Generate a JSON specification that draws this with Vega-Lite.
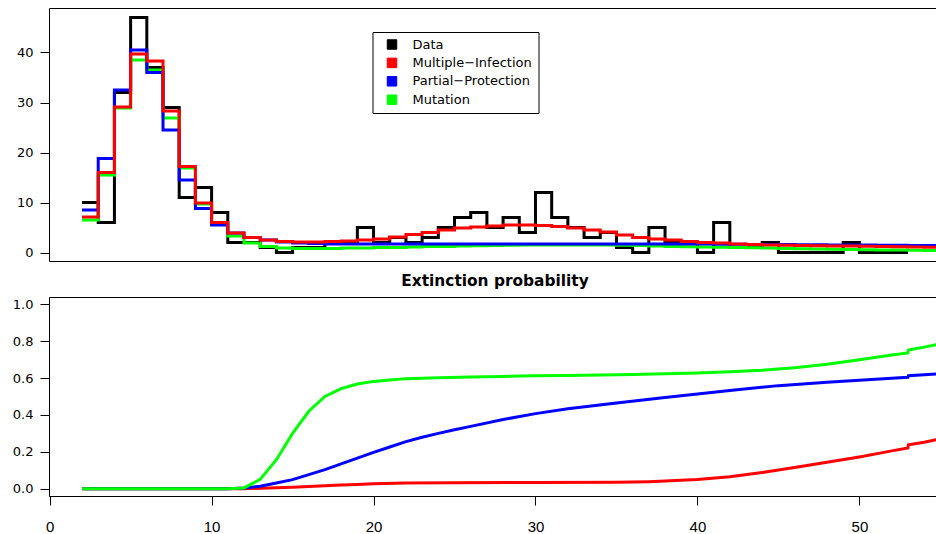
{
  "$schema": "https://vega.github.io/schema/vega-lite/v6.json",
  "padding": {"left": 8, "top": 7, "right": -4, "bottom": 0},
  "background": "white",
  "spacing": 11,
  "config": {
    "font": "DejaVu Sans",
    "view": {"stroke": "black", "strokeWidth": 1},
    "axis": {"grid": false, "domain": false, "tickColor": "black", "tickSize": 9, "tickWidth": 1, "labelColor": "black", "title": null, "labelFlush": false},
    "axisY": {"labelPadding": 7, "minExtent": 40, "maxExtent": 40, "labelFont": "DejaVu Sans", "labelFontSize": 13},
    "axisX": {"labelPadding": 14, "labelFont": "Liberation Sans", "labelFontSize": 15}
  },
  "datasets": {
    "counts": [
      {"x":2,"y":10,"s":"Data"},{"x":3,"y":6,"s":"Data"},{"x":4,"y":32,"s":"Data"},{"x":5,"y":47,"s":"Data"},{"x":6,"y":37,"s":"Data"},{"x":7,"y":29,"s":"Data"},{"x":8,"y":11,"s":"Data"},{"x":9,"y":13,"s":"Data"},{"x":10,"y":8,"s":"Data"},{"x":11,"y":2,"s":"Data"},{"x":12,"y":2,"s":"Data"},{"x":13,"y":1,"s":"Data"},{"x":14,"y":0,"s":"Data"},{"x":15,"y":1,"s":"Data"},{"x":16,"y":1,"s":"Data"},{"x":17,"y":2,"s":"Data"},{"x":18,"y":2,"s":"Data"},{"x":19,"y":5,"s":"Data"},{"x":20,"y":2,"s":"Data"},{"x":21,"y":3,"s":"Data"},{"x":22,"y":2,"s":"Data"},{"x":23,"y":3,"s":"Data"},{"x":24,"y":5,"s":"Data"},{"x":25,"y":7,"s":"Data"},{"x":26,"y":8,"s":"Data"},{"x":27,"y":5,"s":"Data"},{"x":28,"y":7,"s":"Data"},{"x":29,"y":4,"s":"Data"},{"x":30,"y":12,"s":"Data"},{"x":31,"y":7,"s":"Data"},{"x":32,"y":5,"s":"Data"},{"x":33,"y":3,"s":"Data"},{"x":34,"y":4,"s":"Data"},{"x":35,"y":1,"s":"Data"},{"x":36,"y":0,"s":"Data"},{"x":37,"y":5,"s":"Data"},{"x":38,"y":2,"s":"Data"},{"x":39,"y":2,"s":"Data"},{"x":40,"y":0,"s":"Data"},{"x":41,"y":6,"s":"Data"},{"x":42,"y":1,"s":"Data"},{"x":43,"y":1,"s":"Data"},{"x":44,"y":2,"s":"Data"},{"x":45,"y":0,"s":"Data"},{"x":46,"y":0,"s":"Data"},{"x":47,"y":0,"s":"Data"},{"x":48,"y":0,"s":"Data"},{"x":49,"y":2,"s":"Data"},{"x":50,"y":0,"s":"Data"},{"x":51,"y":0,"s":"Data"},{"x":52,"y":0,"s":"Data"},{"x":53,"y":0,"s":"Data"},

      {"x":2,"y":6.5,"s":"Mutation"},{"x":3,"y":15.5,"s":"Mutation"},{"x":4,"y":28.9,"s":"Mutation"},{"x":5,"y":38.5,"s":"Mutation"},{"x":6,"y":36.5,"s":"Mutation"},{"x":7,"y":26.9,"s":"Mutation"},{"x":8,"y":16.9,"s":"Mutation"},{"x":9,"y":9.7,"s":"Mutation"},{"x":10,"y":5.8,"s":"Mutation"},{"x":11,"y":3.3,"s":"Mutation"},{"x":12,"y":1.9,"s":"Mutation"},{"x":13,"y":1.2,"s":"Mutation"},{"x":14,"y":0.9,"s":"Mutation"},{"x":15,"y":0.8,"s":"Mutation"},{"x":16,"y":0.8,"s":"Mutation"},{"x":17,"y":0.8,"s":"Mutation"},{"x":18,"y":0.9,"s":"Mutation"},{"x":19,"y":0.9,"s":"Mutation"},{"x":20,"y":1.0,"s":"Mutation"},{"x":21,"y":1.0,"s":"Mutation"},{"x":22,"y":1.1,"s":"Mutation"},{"x":23,"y":1.2,"s":"Mutation"},{"x":24,"y":1.2,"s":"Mutation"},{"x":25,"y":1.3,"s":"Mutation"},{"x":26,"y":1.35,"s":"Mutation"},{"x":27,"y":1.4,"s":"Mutation"},{"x":28,"y":1.45,"s":"Mutation"},{"x":29,"y":1.5,"s":"Mutation"},{"x":30,"y":1.5,"s":"Mutation"},{"x":31,"y":1.5,"s":"Mutation"},{"x":32,"y":1.5,"s":"Mutation"},{"x":33,"y":1.5,"s":"Mutation"},{"x":34,"y":1.5,"s":"Mutation"},{"x":35,"y":1.45,"s":"Mutation"},{"x":36,"y":1.4,"s":"Mutation"},{"x":37,"y":1.3,"s":"Mutation"},{"x":38,"y":1.2,"s":"Mutation"},{"x":39,"y":1.15,"s":"Mutation"},{"x":40,"y":1.1,"s":"Mutation"},{"x":41,"y":1.05,"s":"Mutation"},{"x":42,"y":1.0,"s":"Mutation"},{"x":43,"y":0.95,"s":"Mutation"},{"x":44,"y":0.9,"s":"Mutation"},{"x":45,"y":0.8,"s":"Mutation"},{"x":46,"y":0.75,"s":"Mutation"},{"x":47,"y":0.7,"s":"Mutation"},{"x":48,"y":0.65,"s":"Mutation"},{"x":49,"y":0.6,"s":"Mutation"},{"x":50,"y":0.55,"s":"Mutation"},{"x":51,"y":0.5,"s":"Mutation"},{"x":52,"y":0.5,"s":"Mutation"},{"x":53,"y":0.45,"s":"Mutation"},{"x":54,"y":0.4,"s":"Mutation"},{"x":55,"y":0.4,"s":"Mutation"},

      {"x":2,"y":8.5,"s":"Partial−Protection"},{"x":3,"y":18.8,"s":"Partial−Protection"},{"x":4,"y":32.5,"s":"Partial−Protection"},{"x":5,"y":40.5,"s":"Partial−Protection"},{"x":6,"y":36,"s":"Partial−Protection"},{"x":7,"y":24.5,"s":"Partial−Protection"},{"x":8,"y":14.5,"s":"Partial−Protection"},{"x":9,"y":8.8,"s":"Partial−Protection"},{"x":10,"y":5.5,"s":"Partial−Protection"},{"x":11,"y":3.9,"s":"Partial−Protection"},{"x":12,"y":3.0,"s":"Partial−Protection"},{"x":13,"y":2.5,"s":"Partial−Protection"},{"x":14,"y":2.1,"s":"Partial−Protection"},{"x":15,"y":1.9,"s":"Partial−Protection"},{"x":16,"y":1.8,"s":"Partial−Protection"},{"x":17,"y":1.7,"s":"Partial−Protection"},{"x":18,"y":1.7,"s":"Partial−Protection"},{"x":19,"y":1.7,"s":"Partial−Protection"},{"x":20,"y":1.7,"s":"Partial−Protection"},{"x":21,"y":1.7,"s":"Partial−Protection"},{"x":22,"y":1.7,"s":"Partial−Protection"},{"x":23,"y":1.7,"s":"Partial−Protection"},{"x":24,"y":1.7,"s":"Partial−Protection"},{"x":25,"y":1.7,"s":"Partial−Protection"},{"x":26,"y":1.7,"s":"Partial−Protection"},{"x":27,"y":1.7,"s":"Partial−Protection"},{"x":28,"y":1.7,"s":"Partial−Protection"},{"x":29,"y":1.7,"s":"Partial−Protection"},{"x":30,"y":1.7,"s":"Partial−Protection"},{"x":31,"y":1.7,"s":"Partial−Protection"},{"x":32,"y":1.7,"s":"Partial−Protection"},{"x":33,"y":1.7,"s":"Partial−Protection"},{"x":34,"y":1.7,"s":"Partial−Protection"},{"x":35,"y":1.7,"s":"Partial−Protection"},{"x":36,"y":1.7,"s":"Partial−Protection"},{"x":37,"y":1.7,"s":"Partial−Protection"},{"x":38,"y":1.7,"s":"Partial−Protection"},{"x":39,"y":1.7,"s":"Partial−Protection"},{"x":40,"y":1.7,"s":"Partial−Protection"},{"x":41,"y":1.65,"s":"Partial−Protection"},{"x":42,"y":1.65,"s":"Partial−Protection"},{"x":43,"y":1.6,"s":"Partial−Protection"},{"x":44,"y":1.6,"s":"Partial−Protection"},{"x":45,"y":1.6,"s":"Partial−Protection"},{"x":46,"y":1.55,"s":"Partial−Protection"},{"x":47,"y":1.55,"s":"Partial−Protection"},{"x":48,"y":1.5,"s":"Partial−Protection"},{"x":49,"y":1.5,"s":"Partial−Protection"},{"x":50,"y":1.5,"s":"Partial−Protection"},{"x":51,"y":1.45,"s":"Partial−Protection"},{"x":52,"y":1.45,"s":"Partial−Protection"},{"x":53,"y":1.4,"s":"Partial−Protection"},{"x":54,"y":1.4,"s":"Partial−Protection"},{"x":55,"y":1.4,"s":"Partial−Protection"},

      {"x":2,"y":7.1,"s":"Multiple−Infection"},{"x":3,"y":16,"s":"Multiple−Infection"},{"x":4,"y":29.1,"s":"Multiple−Infection"},{"x":5,"y":39.7,"s":"Multiple−Infection"},{"x":6,"y":38.3,"s":"Multiple−Infection"},{"x":7,"y":28.3,"s":"Multiple−Infection"},{"x":8,"y":17.2,"s":"Multiple−Infection"},{"x":9,"y":9.9,"s":"Multiple−Infection"},{"x":10,"y":6.0,"s":"Multiple−Infection"},{"x":11,"y":3.9,"s":"Multiple−Infection"},{"x":12,"y":3.0,"s":"Multiple−Infection"},{"x":13,"y":2.5,"s":"Multiple−Infection"},{"x":14,"y":2.2,"s":"Multiple−Infection"},{"x":15,"y":2.1,"s":"Multiple−Infection"},{"x":16,"y":2.1,"s":"Multiple−Infection"},{"x":17,"y":2.2,"s":"Multiple−Infection"},{"x":18,"y":2.3,"s":"Multiple−Infection"},{"x":19,"y":2.5,"s":"Multiple−Infection"},{"x":20,"y":2.7,"s":"Multiple−Infection"},{"x":21,"y":3.1,"s":"Multiple−Infection"},{"x":22,"y":3.6,"s":"Multiple−Infection"},{"x":23,"y":4.0,"s":"Multiple−Infection"},{"x":24,"y":4.5,"s":"Multiple−Infection"},{"x":25,"y":4.9,"s":"Multiple−Infection"},{"x":26,"y":5.1,"s":"Multiple−Infection"},{"x":27,"y":5.3,"s":"Multiple−Infection"},{"x":28,"y":5.5,"s":"Multiple−Infection"},{"x":29,"y":5.5,"s":"Multiple−Infection"},{"x":30,"y":5.4,"s":"Multiple−Infection"},{"x":31,"y":5.2,"s":"Multiple−Infection"},{"x":32,"y":4.9,"s":"Multiple−Infection"},{"x":33,"y":4.5,"s":"Multiple−Infection"},{"x":34,"y":4.1,"s":"Multiple−Infection"},{"x":35,"y":3.5,"s":"Multiple−Infection"},{"x":36,"y":3.0,"s":"Multiple−Infection"},{"x":37,"y":2.7,"s":"Multiple−Infection"},{"x":38,"y":2.5,"s":"Multiple−Infection"},{"x":39,"y":2.2,"s":"Multiple−Infection"},{"x":40,"y":2.0,"s":"Multiple−Infection"},{"x":41,"y":1.9,"s":"Multiple−Infection"},{"x":42,"y":1.7,"s":"Multiple−Infection"},{"x":43,"y":1.6,"s":"Multiple−Infection"},{"x":44,"y":1.5,"s":"Multiple−Infection"},{"x":45,"y":1.45,"s":"Multiple−Infection"},{"x":46,"y":1.4,"s":"Multiple−Infection"},{"x":47,"y":1.35,"s":"Multiple−Infection"},{"x":48,"y":1.3,"s":"Multiple−Infection"},{"x":49,"y":1.3,"s":"Multiple−Infection"},{"x":50,"y":1.25,"s":"Multiple−Infection"},{"x":51,"y":1.2,"s":"Multiple−Infection"},{"x":52,"y":1.15,"s":"Multiple−Infection"},{"x":53,"y":1.1,"s":"Multiple−Infection"},{"x":54,"y":1.05,"s":"Multiple−Infection"},{"x":55,"y":1.0,"s":"Multiple−Infection"}
    ],
    "extinction": [
      {"x":2,"p":0,"s":"Multiple−Infection"},{"x":12,"p":0,"s":"Multiple−Infection"},{"x":13,"p":0.002,"s":"Multiple−Infection"},{"x":14,"p":0.005,"s":"Multiple−Infection"},{"x":15,"p":0.008,"s":"Multiple−Infection"},{"x":16,"p":0.012,"s":"Multiple−Infection"},{"x":17,"p":0.016,"s":"Multiple−Infection"},{"x":18,"p":0.02,"s":"Multiple−Infection"},{"x":19,"p":0.023,"s":"Multiple−Infection"},{"x":20,"p":0.026,"s":"Multiple−Infection"},{"x":22,"p":0.03,"s":"Multiple−Infection"},{"x":25,"p":0.032,"s":"Multiple−Infection"},{"x":30,"p":0.033,"s":"Multiple−Infection"},{"x":35,"p":0.035,"s":"Multiple−Infection"},{"x":37,"p":0.038,"s":"Multiple−Infection"},{"x":38,"p":0.041,"s":"Multiple−Infection"},{"x":40,"p":0.049,"s":"Multiple−Infection"},{"x":42,"p":0.065,"s":"Multiple−Infection"},{"x":44,"p":0.088,"s":"Multiple−Infection"},{"x":45,"p":0.101,"s":"Multiple−Infection"},{"x":46,"p":0.115,"s":"Multiple−Infection"},{"x":48,"p":0.143,"s":"Multiple−Infection"},{"x":50,"p":0.172,"s":"Multiple−Infection"},{"x":52,"p":0.205,"s":"Multiple−Infection"},{"x":53,"p":0.221,"s":"Multiple−Infection"},{"x":53.03,"p":0.238,"s":"Multiple−Infection"},{"x":54,"p":0.252,"s":"Multiple−Infection"},{"x":55,"p":0.27,"s":"Multiple−Infection"},

      {"x":2,"p":0,"s":"Partial−Protection"},{"x":11,"p":0,"s":"Partial−Protection"},{"x":12,"p":0.004,"s":"Partial−Protection"},{"x":13,"p":0.013,"s":"Partial−Protection"},{"x":14,"p":0.031,"s":"Partial−Protection"},{"x":15,"p":0.049,"s":"Partial−Protection"},{"x":16,"p":0.076,"s":"Partial−Protection"},{"x":17,"p":0.103,"s":"Partial−Protection"},{"x":18,"p":0.134,"s":"Partial−Protection"},{"x":19,"p":0.166,"s":"Partial−Protection"},{"x":20,"p":0.197,"s":"Partial−Protection"},{"x":21,"p":0.226,"s":"Partial−Protection"},{"x":22,"p":0.255,"s":"Partial−Protection"},{"x":23,"p":0.279,"s":"Partial−Protection"},{"x":24,"p":0.3,"s":"Partial−Protection"},{"x":25,"p":0.32,"s":"Partial−Protection"},{"x":26,"p":0.338,"s":"Partial−Protection"},{"x":28,"p":0.375,"s":"Partial−Protection"},{"x":30,"p":0.407,"s":"Partial−Protection"},{"x":32,"p":0.433,"s":"Partial−Protection"},{"x":35,"p":0.465,"s":"Partial−Protection"},{"x":38,"p":0.495,"s":"Partial−Protection"},{"x":40,"p":0.514,"s":"Partial−Protection"},{"x":42,"p":0.532,"s":"Partial−Protection"},{"x":45,"p":0.559,"s":"Partial−Protection"},{"x":48,"p":0.577,"s":"Partial−Protection"},{"x":50,"p":0.588,"s":"Partial−Protection"},{"x":52,"p":0.599,"s":"Partial−Protection"},{"x":53,"p":0.604,"s":"Partial−Protection"},{"x":53.03,"p":0.613,"s":"Partial−Protection"},{"x":54,"p":0.618,"s":"Partial−Protection"},{"x":55,"p":0.623,"s":"Partial−Protection"},

      {"x":2,"p":0,"s":"Mutation"},{"x":11,"p":0,"s":"Mutation"},{"x":12,"p":0.004,"s":"Mutation"},{"x":13,"p":0.05,"s":"Mutation"},{"x":14,"p":0.157,"s":"Mutation"},{"x":15,"p":0.3,"s":"Mutation"},{"x":16,"p":0.42,"s":"Mutation"},{"x":17,"p":0.5,"s":"Mutation"},{"x":18,"p":0.543,"s":"Mutation"},{"x":19,"p":0.568,"s":"Mutation"},{"x":20,"p":0.582,"s":"Mutation"},{"x":21,"p":0.59,"s":"Mutation"},{"x":22,"p":0.597,"s":"Mutation"},{"x":24,"p":0.602,"s":"Mutation"},{"x":26,"p":0.606,"s":"Mutation"},{"x":28,"p":0.609,"s":"Mutation"},{"x":30,"p":0.612,"s":"Mutation"},{"x":32,"p":0.614,"s":"Mutation"},{"x":34,"p":0.617,"s":"Mutation"},{"x":36,"p":0.62,"s":"Mutation"},{"x":38,"p":0.623,"s":"Mutation"},{"x":40,"p":0.628,"s":"Mutation"},{"x":42,"p":0.634,"s":"Mutation"},{"x":44,"p":0.643,"s":"Mutation"},{"x":46,"p":0.656,"s":"Mutation"},{"x":48,"p":0.675,"s":"Mutation"},{"x":50,"p":0.7,"s":"Mutation"},{"x":52,"p":0.725,"s":"Mutation"},{"x":53,"p":0.736,"s":"Mutation"},{"x":53.03,"p":0.752,"s":"Mutation"},{"x":54,"p":0.768,"s":"Mutation"},{"x":55,"p":0.785,"s":"Mutation"}
    ]
  },
  "vconcat": [
    {
      "width": 892,
      "height": 253,
      "data": {"name": "counts"},
      "mark": {"type": "line", "interpolate": "step-after", "strokeWidth": 3, "clip": true},
      "encoding": {
        "x": {"field": "x", "type": "quantitative", "scale": {"domain": [-0.04, 55.04], "nice": false, "zero": false}, "axis": null},
        "y": {"field": "y", "type": "quantitative", "scale": {"domain": [-1.7, 48.9], "nice": false, "zero": false}, "axis": {"values": [0, 10, 20, 30, 40]}},
        "color": {
          "field": "s", "type": "nominal",
          "scale": {"domain": ["Data", "Multiple−Infection", "Partial−Protection", "Mutation"], "range": ["#000000", "#ff0000", "#0000ff", "#00ff00"]},
          "legend": {
            "orient": "none", "legendX": 323.5, "legendY": 24,
            "title": null,
            "strokeColor": "black",
            "fillColor": "white",
            "padding": 6,
            "labelFontSize": 13,
            "labelFont": "DejaVu Sans",
            "labelColor": "black",
            "labelOffset": 14,
            "symbolOffset": 7,
            "rowPadding": 3.4,
            "symbolType": "square",
            "symbolSize": 90,
            "encode": {"symbols": {"update": {"fill": {"scale": "color", "field": "value"}, "stroke": {"value": "black"}, "strokeWidth": {"value": 1}, "shape": {"value": "square"}, "opacity": {"value": 1}}}}
          }
        }
      }
    },
    {
      "width": 892,
      "height": 199,
      "title": {"text": "Extinction probability", "fontSize": 15.4, "fontWeight": "bold", "font": "DejaVu Sans", "color": "black", "anchor": "middle", "baseline": "alphabetic", "offset": -4},
      "data": {"name": "extinction"},
      "mark": {"type": "line", "strokeWidth": 3, "clip": true},
      "encoding": {
        "x": {"field": "x", "type": "quantitative", "scale": {"domain": [-0.04, 55.04], "nice": false, "zero": false}, "axis": {"values": [0, 10, 20, 30, 40, 50]}},
        "y": {"field": "p", "type": "quantitative", "scale": {"domain": [-0.04, 1.04], "nice": false, "zero": false}, "axis": {"values": [0, 0.2, 0.4, 0.6, 0.8, 1.0], "format": ".1f"}},
        "color": {"field": "s", "type": "nominal", "scale": {"domain": ["Data", "Multiple−Infection", "Partial−Protection", "Mutation"], "range": ["#000000", "#ff0000", "#0000ff", "#00ff00"]}}
      }
    }
  ]
}
